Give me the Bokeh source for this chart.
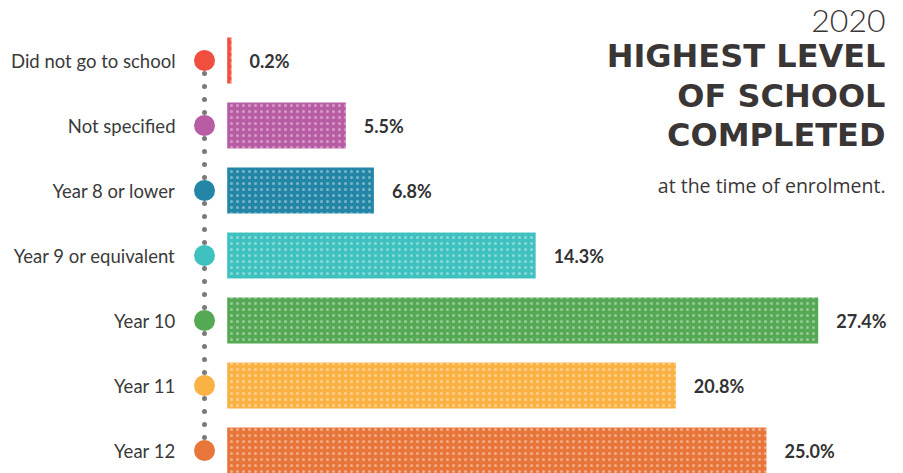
from bokeh.plotting import figure
from bokeh.models import Range1d, ColumnDataSource, Label
from bokeh.core.properties import value
from bokeh.embed import file_html
from bokeh.resources import INLINE

categories = ["Did not go to school", "Not specified", "Year 8 or lower",
              "Year 9 or equivalent", "Year 10", "Year 11", "Year 12"]
values = [0.2, 5.5, 6.8, 14.3, 27.4, 20.8, 25.0]
colors = ["#F04E3E", "#B85CA4", "#2386A6", "#3EC1BF", "#55A854", "#FBB244", "#E8763A"]
title_year = "2020"
title_lines = ["HIGHEST LEVEL", "OF SCHOOL", "COMPLETED"]
subtitle = "at the time of enrolment."

W, H = 903, 473
PX_PER_UNIT = 21.57
X0_PX = 226.7
ROW0_PX, ROW_PITCH = 60.0, 65.0

rows = list(range(len(categories)))
src = ColumnDataSource(dict(
    y=rows, v=values, c=colors, cat=categories,
    lab=[f"{v:.1f}%" for v in values],
))

p = figure(width=W, height=H, output_backend="svg", toolbar_location=None,
           x_range=Range1d(-X0_PX / PX_PER_UNIT, (W - X0_PX) / PX_PER_UNIT),
           y_range=Range1d((H - ROW0_PX) / ROW_PITCH, -ROW0_PX / ROW_PITCH),
           min_border=0)
p.axis.visible = False
p.grid.visible = False
p.outline_line_color = None
p.background_fill_color = "white"
p.border_fill_color = "white"

bar_h = 46 / ROW_PITCH
p.hbar(y="y", left=0, right="v", height=bar_h, fill_color="c", line_color=None,
       hatch_pattern="dot", hatch_color="white", hatch_alpha=0.4,
       hatch_scale=6, hatch_weight=3.5, source=src)

dot_x = (204 - X0_PX) / PX_PER_UNIT
p.segment(x0=dot_x, y0=rows[0], x1=dot_x, y1=rows[-1], line_color="#7a7a7a",
          line_width=5, line_dash="0 13", line_cap="round")
p.scatter(x=dot_x, y="y", size=21, fill_color="c", line_color=None, source=src)

lab_x = (175 - X0_PX) / PX_PER_UNIT
p.text(x=lab_x, y="y", text="cat", text_align="right", text_baseline="middle",
       text_font=value("Lato"), text_font_size="18.5px", text_color="#3a3a3a",
       source=src)

p.text(x="v", y="y", text="lab", x_offset=18, text_align="left",
       text_baseline="middle", text_font=value("Lato"), text_font_size="18px",
       text_font_style="bold", text_color="#333333", source=src)

RX = 885


def add_title(text, baseline_px, size, style, font):
    p.add_layout(Label(x=RX, y=H - baseline_px + 0.41 * size, x_units="screen",
                       y_units="screen", text=text, text_align="right",
                       text_baseline="alphabetic", text_font=font,
                       text_font_style=style, text_font_size=f"{size}px",
                       text_color="#3a3636"))


add_title(title_year, 34, 32, "normal", "Lato Light")
for i, t in enumerate(title_lines):
    add_title(t, 69 + 39.5 * i, 32, "bold", "DejaVu Sans")
add_title(subtitle, 193, 19.5, "normal", "Open Sans")

open("out.html", "w").write(file_html(p, INLINE))
